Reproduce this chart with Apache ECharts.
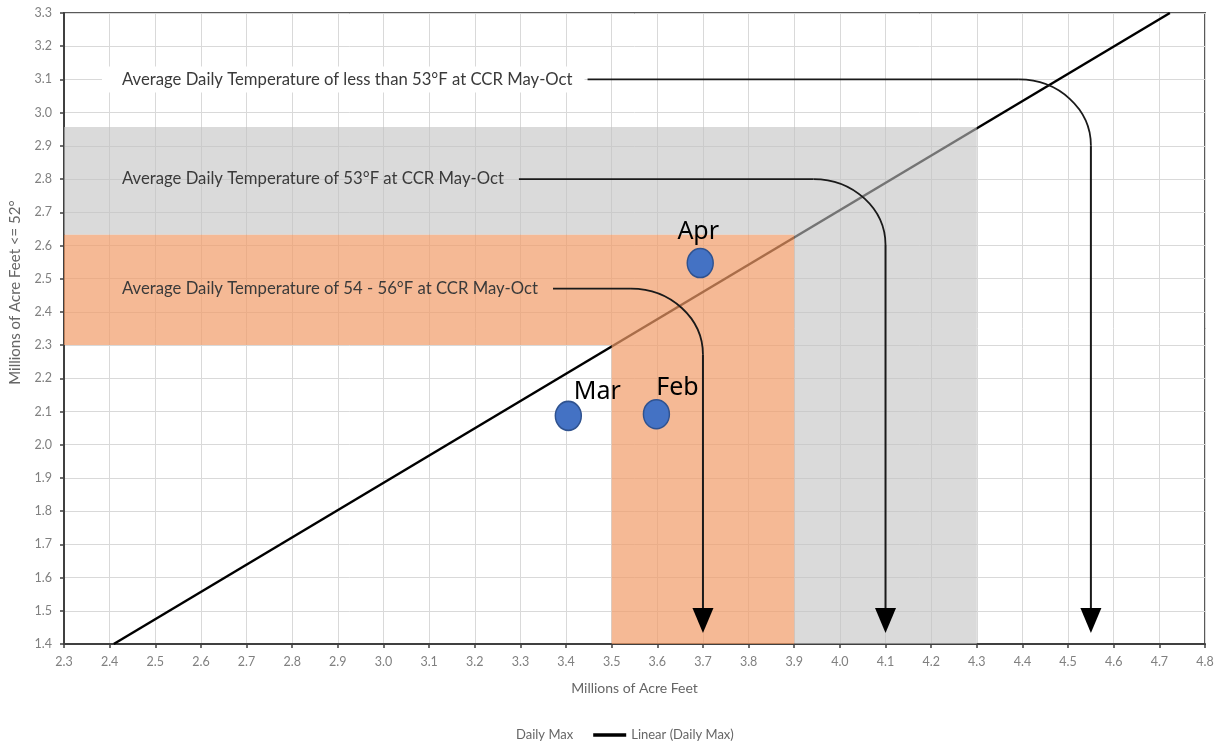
<!DOCTYPE html>
<html><head><meta charset="utf-8">
<script src="https://cdn.jsdelivr.net/npm/echarts@6/dist/echarts.min.js"></script>
<style>html,body{margin:0;padding:0;background:#fff}#c{width:1225px;height:744px}</style>
</head><body><div id="c"></div>
<script>
// ---- data ----
const xMin = 2.3, xMax = 4.8, xStep = 0.1;
const yMin = 1.4, yMax = 3.3, yStep = 0.1;
const xAxisTitle = 'Millions of Acre Feet';
const yAxisTitle = 'Millions of Acre Feet <= 52°';
const monthNames = ['Feb', 'Mar', 'Apr'];
const monthX = [3.598, 3.405, 3.694];
const monthY = [2.092, 2.087, 2.547];
const trendX = [2.409, 4.723];
const trendY = [1.4, 3.3];
const greyPoly = [[2.3, 2.632], [3.9, 2.632], [3.9, 1.4], [4.3, 1.4], [4.3, 2.957], [2.3, 2.957]];
const orangePoly = [[2.3, 2.3], [3.5, 2.3], [3.5, 1.4], [3.9, 1.4], [3.9, 2.632], [2.3, 2.632]];
const noteTexts = [
  'Average Daily Temperature of less than 53°F at CCR May-Oct',
  'Average Daily Temperature of 53°F at CCR May-Oct',
  'Average Daily Temperature of 54 - 56°F at CCR May-Oct'
];
const noteY = [3.1, 2.8, 2.47];
const noteArrowX = [4.55, 4.1, 3.7];
const noteTextX = 2.427;

// ---- styles ----
const shadeColors = ['rgba(193,193,193,0.6)', 'rgba(241,155,104,0.7)'];
const shadePolys = [greyPoly, orangePoly];
const monthLabelOffsets = [[21, -26], [29, -24], [-2, -31]];
const noteBoxed = [true, false, false];
const noteFont = '16.7px Lato';

const chart = echarts.init(document.getElementById('c'), null, {renderer: 'canvas'});
const fmt = v => v.toFixed(1);
const option = {
  animation: false,
  backgroundColor: '#fff',
  grid: {left: 63, right: 20, top: 13, bottom: 100, containLabel: false, show: true,
         borderColor: '#595959', borderWidth: 2, backgroundColor: 'transparent'},
  xAxis: {
    type: 'value', min: xMin, max: xMax, interval: xStep,
    name: xAxisTitle, nameLocation: 'middle', nameGap: 37,
    nameTextStyle: {fontFamily: 'Lato', fontSize: 14, color: '#666'},
    axisLine: {show: true, onZero: false, lineStyle: {color: '#404040', width: 2}},
    axisTick: {show: true, length: 4, lineStyle: {color: '#404040', width: 1.5}},
    axisLabel: {formatter: fmt, margin: 11, fontFamily: 'Lato', fontSize: 12.5, color: '#808080'},
    splitLine: {show: true, lineStyle: {color: '#d9d9d9', width: 1}}
  },
  yAxis: {
    type: 'value', min: yMin, max: yMax, interval: yStep,
    name: yAxisTitle, nameLocation: 'middle', nameGap: 41,
    nameTextStyle: {fontFamily: 'Lato', fontSize: 15, color: '#666', padding: [0, 0, 0, 72]},
    axisLine: {show: true, onZero: false, lineStyle: {color: '#404040', width: 2}},
    axisTick: {show: true, length: 4, lineStyle: {color: '#404040', width: 1.5}},
    axisLabel: {formatter: fmt, margin: 12, fontFamily: 'Lato', fontSize: 12.5, color: '#808080'},
    splitLine: {show: true, lineStyle: {color: '#d9d9d9', width: 1}}
  },
  legend: {
    left: 472, top: 723, itemWidth: 33, itemHeight: 12, itemGap: 20,
    textStyle: {fontFamily: 'Lato', fontSize: 13, color: '#666'},
    data: [
      {name: 'Daily Max', icon: 'rect', itemStyle: {opacity: 0}},
      {name: 'Linear (Daily Max)', icon: 'path://M0 0L40 0L40 4L0 4Z', itemStyle: {color: '#000'}}
    ]
  },
  series: [
    {
      name: 'Linear (Daily Max)', type: 'line', z: 2, symbol: 'none', silent: true,
      itemStyle: {color: '#000'},
      lineStyle: {color: '#000', width: 2.5},
      data: trendX.map((x, i) => [x, trendY[i]])
    },
    {
      name: 'shade', type: 'custom', z: 3, silent: true,
      data: shadePolys.map((p, i) => [p[0][0], p[0][1], i]),
      renderItem: (params, api) => {
        const poly = shadePolys[params.dataIndex];
        return {
          type: 'polygon',
          shape: {points: poly.map(pt => api.coord(pt))},
          style: {fill: shadeColors[params.dataIndex], stroke: null}
        };
      }
    },
    {
      name: 'Daily Max', type: 'scatter', z: 6,
      symbol: 'circle', symbolSize: [26, 29],
      itemStyle: {color: '#4472C4', borderColor: '#2F528F', borderWidth: 1.5, opacity: 1},
      data: monthNames.map((n, i) => ({
        value: [monthX[i], monthY[i]], name: n,
        label: {show: true, formatter: n, position: 'inside',
                offset: monthLabelOffsets[i], fontFamily: 'Noto Sans', fontSize: 25, color: '#000'}
      }))
    }
  ]
};
chart.setOption(option);

// ---- annotations built through the grid's coordinate conversion ----
const ctx = document.createElement('canvas').getContext('2d');
ctx.font = noteFont;
const toPx = (x, y) => chart.convertToPixel({gridIndex: 0}, [x, y]);
const gfx = [];
const rx = 72, ry = 66, lw = 1.8, arrowW = 21, arrowH = 25;
const yBottom = toPx(xMin, yMin)[1];
noteTexts.forEach((t, i) => {
  const [tx, ty] = toPx(noteTextX, noteY[i]);
  const w = ctx.measureText(t).width;
  const xv = toPx(noteArrowX[i], noteY[i])[0];
  const yTip = yBottom - 11;
  if (noteBoxed[i]) {
    gfx.push({type: 'rect', z: 9, shape: {x: tx - 20, y: ty - 13, width: w + 32, height: 26},
              style: {fill: '#fff'}});
  }
  gfx.push({type: 'text', z: 10, x: tx, y: ty,
            style: {text: t, font: noteFont, fill: '#3a3a3a', verticalAlign: 'middle', align: 'left'}});
  const xs = tx + w + 15;
  gfx.push({type: 'line', z: 10, shape: {x1: xs, y1: ty, x2: xv - rx, y2: ty},
            style: {stroke: '#1a1a1a', lineWidth: lw}});
  gfx.push({type: 'bezierCurve', z: 10,
            shape: {x1: xv - rx, y1: ty, cpx1: xv - rx * 0.45, cpy1: ty,
                    cpx2: xv, cpy2: ty + ry * 0.45, x2: xv, y2: ty + ry},
            style: {stroke: '#1a1a1a', lineWidth: lw, fill: null}});
  gfx.push({type: 'line', z: 10, shape: {x1: xv, y1: ty + ry, x2: xv, y2: yTip - arrowH + 2},
            style: {stroke: '#1a1a1a', lineWidth: 2}});
  gfx.push({type: 'polygon', z: 10,
            shape: {points: [[xv, yTip], [xv - arrowW / 2, yTip - arrowH], [xv + arrowW / 2, yTip - arrowH]]},
            style: {fill: '#000'}});
});
chart.setOption({graphic: {elements: gfx}});
</script>
</body></html>
